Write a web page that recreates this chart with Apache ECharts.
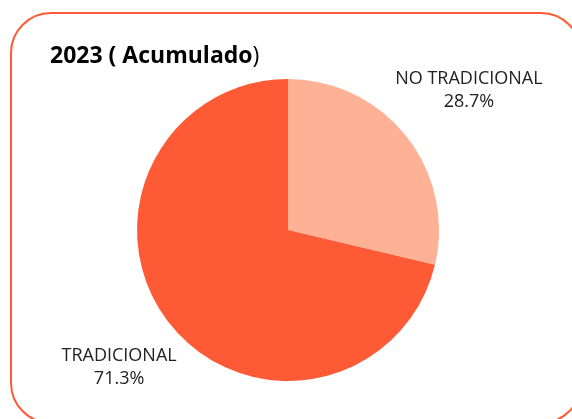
<!DOCTYPE html>
<html>
<head>
<meta charset="utf-8">
<script src="https://cdn.jsdelivr.net/npm/echarts@6/dist/echarts.min.js"></script>
<style>
    html, body { margin: 0; padding: 0; background: #fff; }
    #chart { width: 572px; height: 419px; }
</style>
</head>
<body>
<div id="chart"></div>
<script>
// datos
var categorias = ['NO TRADICIONAL', 'TRADICIONAL'];
var porcentajes = [28.7, 71.3];
var colores = ['#FFB195', '#FF5A36'];

var cx = 288, cy = 230, radio = 151;
var total = porcentajes.reduce(function (a, b) { return a + b; }, 0);

var myChart = echarts.init(document.getElementById('chart'));

var option = {
    animation: false,
    textStyle: { fontFamily: 'Open Sans' },
    graphic: [{
        type: 'rect',
        shape: { x: 11, y: 13, width: 570, height: 410, r: 40 },
        style: { fill: 'none', stroke: '#FF5A36', lineWidth: 2 }
    }, {
        type: 'text',
        left: 50,
        top: 45,
        style: {
            text: '{b|2023 ( Acumulado}{n|)}',
            rich: {
                b: { fontFamily: 'Open Sans', fontSize: 23, fontWeight: 'bold', fill: '#000' },
                n: { fontFamily: 'Open Sans', fontSize: 23, fill: '#000' }
            }
        }
    }],
    series: [{
        type: 'pie',
        center: [cx, cy],
        radius: radio,
        startAngle: 90,
        clockwise: true,
        data: categorias.map(function (c, i) {
            return { name: c, value: porcentajes[i], itemStyle: { color: colores[i] } };
        }),
        label: {
            show: true,
            position: 'outside',
            formatter: function (p) { return p.name + '\n' + p.value.toFixed(1) + '%'; },
            fontFamily: 'Open Sans',
            fontSize: 18,
            lineHeight: 23,
            color: '#222',
            align: 'center',
            overflow: 'none',
            width: 200
        },
        labelLine: { show: false },
        labelLayout: function (params) {
            // angulo medio de cada porcion, medido desde arriba en sentido horario
            var acum = 0;
            for (var i = 0; i < params.dataIndex; i++) acum += porcentajes[i];
            var medio = (acum + porcentajes[params.dataIndex] / 2) / total * Math.PI * 2;
            var d = radio + 72;
            return {
                x: cx + 6 + d * Math.sin(medio),
                y: cy - 1 - d * Math.cos(medio),
                align: 'center',
                verticalAlign: 'middle'
            };
        }
    }]
};

myChart.setOption(option);
</script>
</body>
</html>
